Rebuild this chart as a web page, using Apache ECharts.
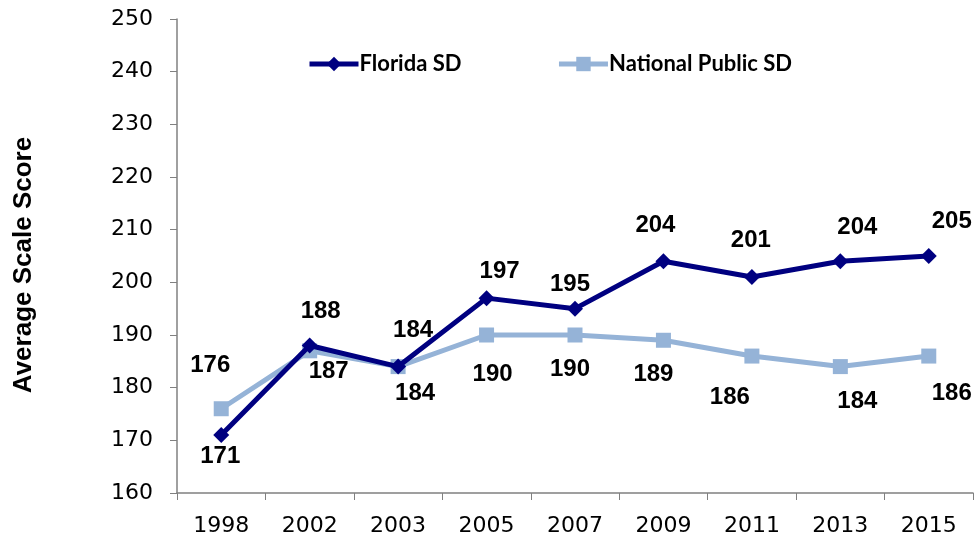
<!DOCTYPE html>
<html>
<head>
<meta charset="utf-8">
<script src="https://cdn.jsdelivr.net/npm/echarts@6/dist/echarts.min.js"></script>
<style>
  html, body { margin: 0; padding: 0; background: #fff; }
  #chart { width: 977px; height: 539px; }
</style>
</head>
<body>
<div id="chart"></div>
<script>
const years = ["1998", "2002", "2003", "2005", "2007", "2009", "2011", "2013", "2015"];
const floridaSD = [171, 188, 184, 197, 195, 204, 201, 204, 205];
const nationalSD = [176, 187, 184, 190, 190, 189, 186, 184, 186];

// label nudges: [dx, dy] from the point
const floridaLabelShift = [[-1, 21], [11, -34], [15, -36], [13, -27], [-5, -24], [-8, -36], [-1, -37], [17, -34], [23, -35]];
const nationalLabelShift = [[-11, -43], [19, 21], [17, 27], [6, 39], [-5, 34], [-10, 34], [-22, 41], [17, 35], [23, 37]];

const labelFont = { fontFamily: "Liberation Sans", fontWeight: "bold", fontSize: 24, color: "#000" };
const tickFont = { fontFamily: "DejaVu Sans", fontSize: 22, color: "#000" };

function withLabels(values, shifts) {
  return values.map((v, i) => ({
    value: v,
    label: { show: true, position: "inside", offset: shifts[i], ...labelFont }
  }));
}

const chart = echarts.init(document.getElementById("chart"));
chart.setOption({
  animation: false,
  grid: { left: 177, right: 4, top: 19, bottom: 46 },
  legend: {
    left: 302,
    top: 48,
    itemWidth: 49,
    itemHeight: 18,
    itemGap: 95,
    lineStyle: { width: 5 },
    textStyle: { fontFamily: "Lato", fontWeight: "bold", fontSize: 22, color: "#000", padding: [0, 0, 0, -4] },
    data: ["Florida SD", "National Public SD"]
  },
  xAxis: {
    type: "category",
    data: years,
    boundaryGap: true,
    axisLine: { lineStyle: { color: "#808080", width: 1.5 } },
    axisTick: { show: true, length: 7, alignWithLabel: false, lineStyle: { color: "#808080" } },
    axisLabel: { ...tickFont, margin: 22 }
  },
  yAxis: {
    type: "value",
    min: 160,
    max: 250,
    interval: 10,
    name: "Average Scale Score",
    nameLocation: "middle",
    nameGap: 140,
    nameTextStyle: { fontFamily: "Liberation Sans", fontWeight: "bold", fontSize: 26, color: "#000", padding: [0, 18, 0, 0] },
    splitLine: { show: false },
    axisLine: { show: true, lineStyle: { color: "#808080", width: 1.5 } },
    axisTick: { show: true, length: 7, lineStyle: { color: "#808080" } },
    axisLabel: { ...tickFont, margin: 24 }
  },
  series: [
    {
      name: "Florida SD",
      type: "line",
      data: withLabels(floridaSD, floridaLabelShift),
      symbol: "diamond",
      symbolSize: 16,
      lineStyle: { color: "#000080", width: 5 },
      itemStyle: { color: "#000080" },
      z: 3
    },
    {
      name: "National Public SD",
      type: "line",
      data: withLabels(nationalSD, nationalLabelShift),
      symbol: "rect",
      symbolSize: 15,
      lineStyle: { color: "#95B3D7", width: 5 },
      itemStyle: { color: "#95B3D7" },
      z: 2
    }
  ]
});
</script>
</body>
</html>
